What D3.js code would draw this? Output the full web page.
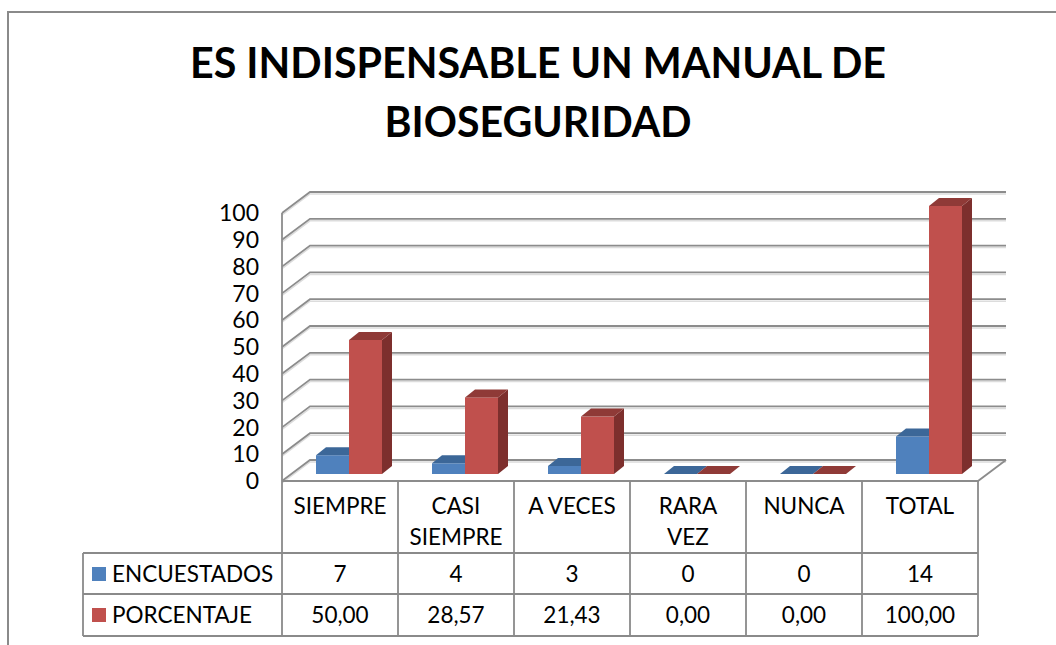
<!DOCTYPE html>
<html>
<head>
<meta charset="utf-8">
<script src="https://cdn.jsdelivr.net/npm/d3@7/dist/d3.min.js"></script>
<style>
  html, body { margin: 0; padding: 0; background: #ffffff; }
  svg { display: block; }
  text { font-family: Lato, "Open Sans", sans-serif; fill: #000; }
</style>
</head>
<body>
<svg id="chart" width="1056" height="645"></svg>
<script>
// ---- data ----
const titleLines = ["ES INDISPENSABLE UN MANUAL DE", "BIOSEGURIDAD"];
const categories = ["SIEMPRE", "CASI SIEMPRE", "A VECES", "RARA VEZ", "NUNCA", "TOTAL"];
const categoryLines = [["SIEMPRE"], ["CASI", "SIEMPRE"], ["A VECES"], ["RARA", "VEZ"], ["NUNCA"], ["TOTAL"]];
const seriesNames = ["ENCUESTADOS", "PORCENTAJE"];
const encuestados = [7, 4, 3, 0, 0, 14];
const porcentaje = [50.00, 28.57, 21.43, 0.00, 0.00, 100.00];
const yTicks = [0, 10, 20, 30, 40, 50, 60, 70, 80, 90, 100];

// ---- styles ----
const colors = {
  ENCUESTADOS: { front: "#4f81bd", top: "#3c6798", side: "#385d8a" },
  PORCENTAJE:  { front: "#c0504d", top: "#8f3a37", side: "#7d2f2d" }
};
const gridColor = "#8c8c8c";
const tableColor = "#8a8a8a";
const tableFont = 22.5;

const svg = d3.select("#chart");

// outer chart border
svg.append("path")
  .attr("d", "M8,645 L8,12 L1056,12")
  .attr("fill", "none").attr("stroke", "#8a8a8a").attr("stroke-width", 2);

// title
const titleG = svg.append("g");
titleG.append("text").attr("x", 538).attr("y", 78)
  .attr("text-anchor", "middle").attr("font-size", 42).attr("font-weight", "bold")
  .attr("textLength", 696).attr("lengthAdjust", "spacingAndGlyphs")
  .text(titleLines[0]);
titleG.append("text").attr("x", 538).attr("y", 137)
  .attr("text-anchor", "middle").attr("font-size", 42).attr("font-weight", "bold")
  .attr("textLength", 307).attr("lengthAdjust", "spacingAndGlyphs")
  .text(titleLines[1]);

// ---- scales / geometry ----
const frontLeft = 282, frontRight = 978, baseFront = 481;
const wallDX = 28, wallDY = -21;          // back wall offset
const barDX0 = 9, barDY0 = -7;            // bar front face offset into depth
const barDX = 10, barDY = -8;             // bar depth

const x = d3.scaleBand().domain(categories).range([frontLeft, frontRight]).padding(0);
const h = d3.scaleLinear().domain([0, 100]).range([0, 268]);
const groupW = 66;
const xs = d3.scaleBand().domain(seriesNames).range([0, groupW]).padding(0);

// side wall + back wall gridlines
const grid = svg.append("g");
yTicks.forEach(v => {
  const yf = baseFront - h(v);
  const yb = yf + wallDY;
  grid.append("path")
    .attr("d", `M${frontLeft},${yf + 2} L${frontLeft + wallDX},${yb + 2} L${frontRight + wallDX},${yb + 2}`)
    .attr("fill", "none").attr("stroke", "#dcdcdc").attr("stroke-width", 1.5);
  grid.append("path")
    .attr("d", `M${frontLeft},${yf} L${frontLeft + wallDX},${yb} L${frontRight + wallDX},${yb}`)
    .attr("fill", "none").attr("stroke", gridColor).attr("stroke-width", 1.8);
});
// floor right edge and front edge
grid.append("path")
  .attr("d", `M${frontLeft},${baseFront} L${frontRight},${baseFront} L${frontRight + wallDX},${baseFront + wallDY}`)
  .attr("fill", "none").attr("stroke", gridColor).attr("stroke-width", 1.8);
// left vertical axis line
grid.append("line")
  .attr("x1", frontLeft).attr("x2", frontLeft)
  .attr("y1", baseFront - h(100)).attr("y2", baseFront)
  .attr("stroke", gridColor).attr("stroke-width", 1.8);

// y axis labels
svg.append("g").selectAll("text").data(yTicks).join("text")
  .attr("x", 259).attr("y", d => baseFront - h(d))
  .attr("dy", "0.36em").attr("text-anchor", "end")
  .attr("font-size", 23)
  .text(d => d);

// bars
const bars = svg.append("g");
const seriesData = { ENCUESTADOS: encuestados, PORCENTAJE: porcentaje };
categories.forEach((c, i) => {
  const gx = x(c) + (x.bandwidth() - groupW) / 2 + barDX0;
  const by = baseFront + barDY0;
  seriesNames.forEach(s => {
    const v = seriesData[s][i];
    const x0 = gx + xs(s), w = xs.bandwidth();
    const top = by - h(v);
    const col = colors[s];
    bars.append("path")
      .attr("d", `M${x0 + w},${by} L${x0 + w + barDX},${by + barDY} L${x0 + w + barDX},${top + barDY} L${x0 + w},${top} Z`)
      .attr("fill", col.side);
    bars.append("rect")
      .attr("x", x0).attr("y", top).attr("width", w).attr("height", by - top)
      .attr("fill", col.front);
    bars.append("path")
      .attr("d", `M${x0},${top} L${x0 + barDX},${top + barDY} L${x0 + w + barDX},${top + barDY} L${x0 + w},${top} Z`)
      .attr("fill", col.top);
  });
});

// ---- data table ----
const table = svg.append("g");
const rowTops = [553, 594, 636];
const tableLeft = 83;
const lineAttrs = sel => sel.attr("stroke", tableColor).attr("stroke-width", 1.8);
const bounds = categories.map(c => x(c)).concat([frontRight]);
bounds.forEach(bx => {
  table.append("line").attr("x1", bx).attr("x2", bx)
    .attr("y1", baseFront).attr("y2", rowTops[2]).call(lineAttrs);
});
table.append("line").attr("x1", tableLeft).attr("x2", tableLeft)
  .attr("y1", rowTops[0]).attr("y2", rowTops[2]).call(lineAttrs);
rowTops.forEach(ry => {
  table.append("line").attr("x1", tableLeft).attr("x2", frontRight)
    .attr("y1", ry).attr("y2", ry).call(lineAttrs);
});

// header labels
categories.forEach((c, i) => {
  categoryLines[i].forEach((ln, j) => {
    table.append("text")
      .attr("x", x(c) + x.bandwidth() / 2).attr("y", 506 + j * 31)
      .attr("dy", "0.36em").attr("text-anchor", "middle")
      .attr("font-size", tableFont).text(ln);
  });
});

// rows
const fmtPct = v => d3.format(".2f")(v).replace(".", ",");
const rowValues = [encuestados.map(d => String(d)), porcentaje.map(fmtPct)];
const rowCenters = [574, 615];
seriesNames.forEach((s, r) => {
  table.append("rect")
    .attr("x", 92).attr("y", rowCenters[r] - 7).attr("width", 14).attr("height", 14)
    .attr("fill", colors[s].front);
  table.append("text")
    .attr("x", 112).attr("y", rowCenters[r]).attr("dy", "0.36em")
    .attr("font-size", tableFont).text(s);
  categories.forEach((c, i) => {
    table.append("text")
      .attr("x", x(c) + x.bandwidth() / 2).attr("y", rowCenters[r]).attr("dy", "0.36em")
      .attr("text-anchor", "middle").attr("font-size", tableFont)
      .text(rowValues[r][i]);
  });
});
</script>
</body>
</html>
